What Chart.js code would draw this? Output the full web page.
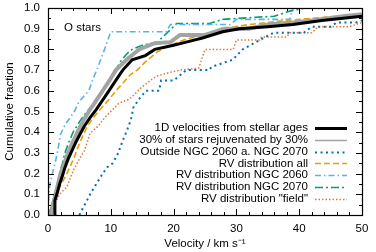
<!DOCTYPE html>
<html><head><meta charset="utf-8">
<script src="https://cdn.jsdelivr.net/npm/chart.js@4/dist/chart.umd.min.js"></script>
<style>html,body{margin:0;padding:0;background:#fff}#wrap{width:376px;height:252px}</style>
</head><body><div id="wrap"><canvas id="c" width="376" height="252"></canvas></div>
<script>
const seriesLabels = ["1D velocities from stellar ages","30% of stars rejuvenated by 30%","Outside NGC 2060 a. NGC 2070","RV distribution all","RV distribution NGC 2060","RV distribution NGC 2070","RV distribution \"field\""];
const xTickValues = [0,10,20,30,40,50];
const yTickValues = [0,0.1,0.2,0.3,0.4,0.5,0.6,0.7,0.8,0.9,1.0];

const velAges  = [1.0,1.1,1.5,1.9,2.3,2.7,3.2,3.8,4.4,5.1,5.8,6.7,7.7,8.7,9.7,10.8,11.9,13.4,15.5,17,20,22,24.6,27.8,30.5,35,39,43.6,47,50];
const fracAges = [0,0.07,0.11,0.155,0.19,0.23,0.27,0.31,0.35,0.39,0.43,0.47,0.51,0.555,0.6,0.65,0.7,0.75,0.77,0.8,0.82,0.835,0.855,0.885,0.9,0.91,0.92,0.94,0.95,0.96];

const velRejuv  = [0.5,0.8,1.2,1.6,2.0,2.6,3.2,3.9,4.7,5.5,6.5,7.6,8.7,9.8,10.8,12.5,14.5,17,19.5,21,25,28,32,35,39,42,47,50];
const fracRejuv = [0,0.05,0.1,0.15,0.2,0.25,0.3,0.35,0.4,0.45,0.5,0.55,0.6,0.65,0.7,0.75,0.8,0.83,0.835,0.87,0.87,0.9,0.9,0.92,0.93,0.94,0.96,0.97];

const velOutside  = [5,5.5,6.2,6.8,7.7,8.5,9.4,10.3,11.2,11.9,12.6,13.2,13.6,14.5,15.6,17.7,18,20,22,25.7,26,29.4,31,33.7,35.9,40.7,42,45,46,49,50];
const fracOutside = [0,0.03,0.07,0.106,0.15,0.19,0.23,0.25,0.3,0.36,0.41,0.46,0.52,0.56,0.6,0.6,0.65,0.65,0.7,0.7,0.715,0.75,0.8,0.845,0.88,0.88,0.91,0.91,0.93,0.93,0.94];

const velRvAll  = [0,0.4,1,1.6,2.3,3.0,3.6,4.2,4.8,5.5,6.3,7.2,8.3,9.5,10.8,12,13.2,14.2,15.5,17.5,19.5,22,25,28,32,38,44,50];
const fracRvAll = [0,0.04,0.08,0.12,0.16,0.2,0.24,0.28,0.33,0.38,0.43,0.47,0.51,0.55,0.6,0.64,0.68,0.7,0.74,0.79,0.82,0.85,0.87,0.9,0.92,0.94,0.955,0.97];

const vel2060  = [0,0.1,0.2,0.7,1.2,1.6,2.0,2.8,3.5,4.2,5.0,6.5,7.2,7.9,8.5,9.0,9.7,10,18.8,19.5,29,30,38.5,39,50];
const frac2060 = [0,0.08,0.13,0.2,0.26,0.32,0.39,0.44,0.47,0.5,0.55,0.6,0.66,0.71,0.76,0.8,0.86,0.885,0.885,0.92,0.92,0.945,0.945,1.0,1.0];

const vel2070  = [0.3,0.6,1.1,1.5,1.8,2.3,2.7,3.3,4.0,5.0,6.2,7.8,8.8,9.8,10.8,11.5,12.6,13.4,15,17.4,18.8,20.5,25.7,27.8,33,36,38.5,41,50];
const frac2070 = [0,0.05,0.1,0.15,0.2,0.25,0.3,0.35,0.4,0.45,0.5,0.555,0.6,0.65,0.7,0.74,0.78,0.8,0.82,0.835,0.875,0.925,0.925,0.945,0.955,0.96,0.985,1.0,1.0];

const velField  = [0,0.5,1.2,1.8,3.0,4.1,5.0,5.8,6.7,8.0,9.0,10,11.3,13,15,17.2,19.5,21,24,25,29.5,30,33.7,34,38,38.5,42,43,48,50];
const fracField = [0,0.02,0.06,0.1,0.135,0.22,0.27,0.31,0.395,0.43,0.47,0.5,0.54,0.56,0.62,0.67,0.69,0.7,0.71,0.8,0.8,0.845,0.845,0.86,0.86,0.88,0.88,0.91,0.91,0.93];

function pts(v,f){return v.map((x,i)=>({x:x,y:f[i]}));}

const styles = [
  {color:'#000000', width:3, dash:[]},
  {color:'#a3a3a3', width:4, dash:[], legendWidth:1.5},
  {color:'#0072b2', width:2, dash:[2,3.5]},
  {color:'#e69f00', width:1.6, dash:[6,3]},
  {color:'#56b4e9', width:1.6, dash:[6,3,1.5,3]},
  {color:'#009e73', width:1.6, dash:[8,3,2,3]},
  {color:'#e0773a', width:1.5, dash:[1.5,2]}
];
const allData = [pts(velAges,fracAges),pts(velRejuv,fracRejuv),pts(velOutside,fracOutside),pts(velRvAll,fracRvAll),pts(vel2060,frac2060),pts(vel2070,frac2070),pts(velField,fracField)];

const FONT = 'Liberation Sans, Arial, sans-serif';

const frameTicks = {
  id:'frameTicks',
  afterDraw(chart){
    const ctx=chart.ctx, a=chart.chartArea, xs=chart.scales.x, ys=chart.scales.y;
    ctx.save();
    ctx.strokeStyle='#000'; ctx.lineWidth=1;
    ctx.beginPath();
    for(let v=0; v<=50; v+=2){
      const px=Math.round(xs.getPixelForValue(v))+0.5;
      const L = (v%10===0)?6:3;
      ctx.moveTo(px,a.bottom); ctx.lineTo(px,a.bottom-L);
      ctx.moveTo(px,a.top); ctx.lineTo(px,a.top+L);
    }
    for(let k=0;k<=20;k++){
      const v=k*0.05;
      const py=Math.round(ys.getPixelForValue(v))+0.5;
      const L=(k%2===0)?6:3;
      ctx.moveTo(a.left,py); ctx.lineTo(a.left+L,py);
      ctx.moveTo(a.right,py); ctx.lineTo(a.right-L,py);
    }
    ctx.stroke();
    ctx.lineWidth=1.2;
    ctx.strokeRect(Math.round(a.left)+0.5,Math.round(a.top)+0.5,Math.round(a.right-a.left),Math.round(a.bottom-a.top));
    ctx.fillStyle='#000';
    ctx.font='11.5px '+FONT;
    ctx.textAlign='left'; ctx.textBaseline='middle';
    ctx.fillText('O stars',64,28);
    const ds=chart.data.datasets;
    ctx.textAlign='right';
    for(let i=0;i<ds.length;i++){
      const y=128+i*11.8;
      ctx.fillStyle='#000';
      ctx.fillText(ds[i].label,308,y);
      const st=styles[i];
      ctx.strokeStyle=st.color;
      ctx.lineWidth=st.legendWidth||st.width;
      ctx.setLineDash(st.dash);
      ctx.beginPath(); ctx.moveTo(315,Math.round(y)+0.5); ctx.lineTo(347,Math.round(y)+0.5); ctx.stroke();
      ctx.setLineDash([]);
    }
    ctx.restore();
  }
};

new Chart(document.getElementById('c'),{
  type:'line',
  data:{datasets: seriesLabels.map((lab,i)=>({
    label:lab, data:allData[i], borderColor:styles[i].color, borderWidth:styles[i].width,
    borderDash:styles[i].dash, pointRadius:0, fill:false, tension:0
  }))},
  options:{
    responsive:false, animation:false, devicePixelRatio:1,
    layout:{padding:{left:0,right:14,top:8,bottom:0}},
    plugins:{legend:{display:false},tooltip:{enabled:false}},
    scales:{
      x:{type:'linear',min:0,max:50,
        afterFit(s){s.height=37;s.paddingLeft=0;s.paddingRight=0;},
        afterBuildTicks(s){s.ticks=xTickValues.map(v=>({value:v}));},
        afterTickToLabelConversion(s){s.ticks.forEach(t=>{t.label=String(t.value);});},
        grid:{display:false,drawTicks:false},border:{display:false},
        ticks:{padding:7,color:'#000',font:{family:FONT,size:11.5},maxRotation:0},
        title:{display:true,text:'Velocity / km s\u207B\u00B9',color:'#000',font:{family:FONT,size:11.5},padding:{top:0,bottom:1}}
      },
      y:{type:'linear',min:0,max:1,
        afterFit(s){s.width=48;s.paddingTop=0;s.paddingBottom=0;},
        afterBuildTicks(s){s.ticks=yTickValues.map(v=>({value:v}));},
        afterTickToLabelConversion(s){s.ticks.forEach(t=>{t.label=Number(t.value).toFixed(1);});},
        grid:{display:false,drawTicks:false},border:{display:false},
        ticks:{padding:8,color:'#000',font:{family:FONT,size:11.5}},
        title:{display:true,text:'Cumulative fraction',color:'#000',font:{family:FONT,size:11.5},padding:{top:3,bottom:0}}
      }
    }
  },
  plugins:[frameTicks]
});
</script></body></html>
